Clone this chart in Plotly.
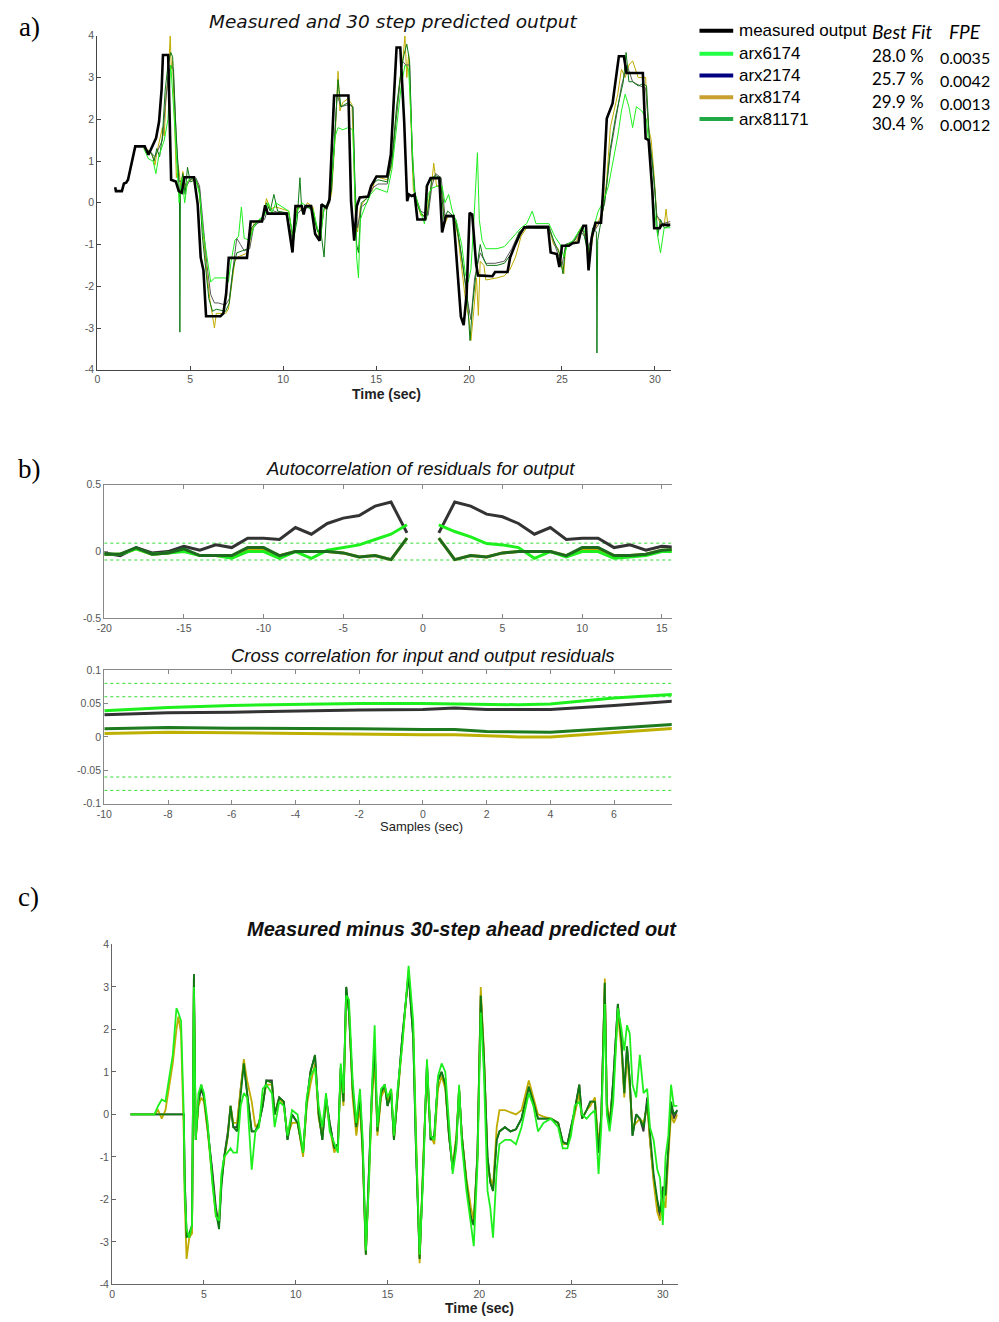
import plotly.graph_objects as go

W, H = 999, 1322
OFF = 8  # page body margin
def fx(p): return (p - OFF) / W
def fy(p): return 1 - (p - OFF) / H

# ---------------- Panel a: measured and 30-step predicted output ----------------
measured = [(0.96,0.37),(1.0,0.28),(1.32,0.28),(1.43,0.46),(1.55,0.48),(1.65,0.55),(2.04,1.35),(2.55,1.35),
    (2.75,1.15),(2.9,1.3),(3.16,1.55),(3.32,1.94),(3.46,2.73),(3.53,3.54),(3.81,3.54),(3.97,0.55),(4.22,0.51),
    (4.38,0.28),(4.54,0.24),(4.69,0.61),(5.2,0.61),(5.4,-0.04),(5.56,-1.31),(5.71,-1.62),(5.85,-2.72),(6.62,-2.72),
    (6.78,-2.65),(6.93,-2.18),(7.07,-1.32),(8.05,-1.32),(8.25,-0.45),(8.86,-0.45),(9.03,-0.06),(9.17,-0.26),
    (10.19,-0.26),(10.5,-1.19),(10.66,-0.08),(11.0,-0.08),(11.1,-0.28),(11.2,-0.08),(11.5,-0.08),(11.72,-0.75),
    (11.96,-0.91),(12.06,-0.04),(12.33,-0.12),(12.49,0.08),(12.64,1.47),(12.74,2.57),(13.51,2.57),(13.65,0.04),
    (13.82,-0.91),(13.96,-0.08),(14.12,0.13),(14.57,0.15),(14.73,0.4),(15.02,0.63),(15.59,0.63),(15.79,1.15),
    (16.1,3.72),(16.3,3.72),(16.51,1.94),(16.67,0.04),(16.77,0.2),(16.92,0.16),(17.07,0.2),(17.22,-0.4),
    (17.63,-0.4),(17.73,0.4),(17.93,0.59),(18.4,0.59),(18.55,-0.71),(18.75,-0.32),(19.16,-0.32),(19.36,-1.47),
    (19.56,-2.73),(19.71,-2.93),(19.87,-2.18),(20.03,-0.24),(20.17,-0.28),(20.38,-1.47),(20.48,-1.74),
    (21.26,-1.76),(21.4,-1.66),(22.07,-1.66),(22.21,-1.31),(22.42,-1.07),(22.72,-0.77),(22.97,-0.59),
    (24.25,-0.59),(24.39,-1.19),(24.72,-1.23),(24.86,-1.54),(25.0,-1.03),(25.37,-1.03),(25.57,-0.97),
    (25.88,-0.95),(25.98,-0.75),(26.15,-0.55),(26.29,-0.55),(26.43,-1.62),(26.6,-0.83),(26.8,-0.48),
    (27.1,-0.48),(27.21,0.28),(27.41,2.02),(27.72,2.38),(27.92,3.01),(28.06,3.51),(28.33,3.51),(28.47,3.11),
    (29.35,3.11),(29.5,1.54),(29.66,1.5),(29.86,0.28),(29.96,-0.61),(30.26,-0.61),(30.36,-0.53),(30.83,-0.53)]

pred_arx8174 = [(2.5,1.3),(2.8,1.25),(3.0,1.1),(3.1,0.9),(3.2,1.2),(3.35,1.5),(3.5,1.8),(3.6,1.6),(3.7,2.6),
    (3.8,2.9),(3.92,4.0),(3.98,3.2),(4.05,3.4),(4.15,2.0),(4.25,0.6),(4.35,0.9),(4.5,0.4),(4.6,0.75),(4.75,0.3),
    (4.85,0.5),(5.0,0.55),(5.3,0.55),(5.45,0.4),(5.6,-0.3),(5.75,-1.1),(5.9,-1.7),(6.05,-2.3),(6.2,-2.75),
    (6.3,-3.0),(6.4,-2.65),(6.9,-2.65),(7.05,-2.55),(7.2,-2.0),(7.4,-1.4),(7.55,-1.3),(7.8,-1.25),(8.1,-1.2),
    (8.3,-0.7),(8.45,-0.45),(8.9,-0.4),(9.1,0.1),(9.3,-0.15),(9.6,-0.1),(10.3,-0.2),(10.55,-0.95),(10.65,-0.3),
    (10.8,-0.1),(11.1,-0.2),(11.3,0.0),(11.6,-0.1),(11.8,-0.6),(12.0,-0.9),(12.15,-0.2),(12.4,-0.1),(12.6,0.2),
    (12.8,1.6),(12.95,3.15),(13.05,2.2),(13.2,2.4),(13.5,2.5),(13.7,2.35),(13.8,1.0),(13.9,-0.5),(14.0,-0.7),
    (14.15,-0.1),(14.3,0.0),(14.6,0.2),(14.8,0.3),(15.0,0.65),(15.2,0.6),(15.6,0.55),(15.85,0.9),(16.05,2.0),
    (16.3,3.0),(16.45,3.5),(16.55,4.0),(16.65,3.0),(16.75,3.55),(16.9,1.5),(17.0,0.3),(17.15,0.1),(17.4,-0.3),
    (17.7,-0.3),(17.85,0.1),(18.0,0.5),(18.1,0.95),(18.25,0.4),(18.5,0.4),(18.7,-0.5),(18.9,-0.3),(19.2,-0.35),
    (19.4,-0.8),(19.6,-1.5),(19.8,-2.3),(20.0,-2.8),(20.1,-3.3),(20.25,-2.6),(20.4,-1.8),(20.5,-2.7),(20.6,-1.4),
    (20.8,-1.5),(20.9,-1.85),(21.5,-1.8),(21.9,-1.75),(22.2,-1.6),(22.5,-1.3),(22.8,-0.8),(23.1,-0.6),(23.6,-0.6),
    (24.3,-0.6),(24.55,-1.0),(24.8,-1.1),(24.95,-1.4),(25.1,-1.7),(25.2,-1.0),(25.5,-1.0),(25.8,-0.9),(26.0,-0.6),
    (26.3,-0.8),(26.5,-1.3),(26.7,-0.7),(26.9,-0.5),(27.2,-0.2),(27.4,0.5),(27.6,1.8),(27.8,2.2),(28.0,2.6),
    (28.2,3.2),(28.4,3.0),(28.6,3.3),(28.8,3.4),(29.1,3.0),(29.35,3.0),(29.5,3.0),(29.65,1.8),(29.8,1.5),
    (29.95,0.7),(30.1,-0.3),(30.3,-0.5),(30.5,-0.55),(30.6,-0.15),(30.7,-0.55),(30.83,-0.5)]

pred_arx2174 = [(2.5,1.3),(2.9,1.2),(3.1,1.1),(3.3,1.3),(3.5,1.5),(3.65,2.3),(3.8,3.0),(3.95,3.3),(4.1,3.2),
    (4.25,1.5),(4.4,0.5),(4.6,0.55),(4.8,0.4),(5.0,0.55),(5.3,0.6),(5.5,0.4),(5.7,-0.5),(5.9,-1.5),(6.1,-2.2),
    (6.3,-2.4),(6.5,-2.4),(6.9,-2.45),(7.1,-2.3),(7.3,-1.5),(7.5,-0.85),(7.7,-1.0),(7.9,-1.15),(8.2,-1.1),
    (8.4,-0.6),(8.6,-0.5),(9.0,-0.4),(9.2,-0.1),(9.5,-0.2),(10.2,-0.3),(10.5,-0.9),(10.7,-0.3),(11.0,-0.15),
    (11.5,-0.1),(11.8,-0.6),(12.0,-0.8),(12.2,-0.15),(12.5,0.0),(12.7,1.0),(12.9,2.6),(13.1,2.3),(13.5,2.35),
    (13.75,2.3),(13.85,0.5),(14.0,-0.6),(14.2,-0.1),(14.5,0.0),(14.8,0.35),(15.1,0.45),(15.6,0.45),(15.9,1.2),
    (16.2,2.5),(16.4,3.4),(16.6,3.3),(16.8,3.3),(16.95,1.2),(17.1,0.2),(17.4,-0.2),(17.8,-0.3),(18.0,0.4),
    (18.2,0.7),(18.5,0.6),(18.7,-0.3),(19.0,-0.3),(19.3,-0.4),(19.6,-1.3),(19.9,-2.3),(20.1,-2.8),(20.3,-1.8),
    (20.6,-1.2),(20.9,-1.45),(21.4,-1.45),(21.9,-1.4),(22.3,-1.1),(22.7,-0.7),(23.2,-0.55),(24.3,-0.55),
    (24.6,-1.0),(25.0,-1.5),(25.2,-1.0),(25.7,-0.9),(26.1,-0.6),(26.4,-1.1),(26.7,-0.7),(27.0,-0.5),(27.3,0.0),
    (27.6,1.2),(27.9,2.0),(28.2,2.8),(28.5,3.3),(28.8,2.9),(29.2,2.8),(29.5,2.75),(29.7,1.6),(29.9,0.8),
    (30.1,-0.3),(30.4,-0.5),(30.83,-0.45)]

pred_arx81171 = [(2.5,1.3),(2.9,1.2),(3.05,1.0),(3.2,1.3),(3.35,1.1),(3.5,1.6),(3.65,2.7),(3.8,3.3),(3.95,3.6),
    (4.05,3.5),(4.2,2.0),(4.35,0.6),(4.42,0.2),(4.44,-3.1),(4.47,0.3),(4.6,0.7),(4.72,0.2),(4.85,0.85),(5.0,0.5),
    (5.3,0.55),(5.5,0.3),(5.65,-0.8),(5.85,-1.6),(6.0,-2.3),(6.2,-2.6),(6.4,-2.55),(6.9,-2.6),(7.1,-2.4),
    (7.3,-1.6),(7.5,-1.2),(7.8,-1.15),(8.1,-1.1),(8.3,-0.6),(8.6,-0.45),(8.9,-0.35),(9.1,0.0),(9.3,-0.2),
    (9.5,0.2),(9.7,-0.2),(10.3,-0.25),(10.55,-0.9),(10.75,-0.4),(10.9,0.6),(11.0,-0.2),(11.3,-0.1),(11.6,-0.2),
    (11.85,-0.7),(12.0,-0.6),(12.2,-1.3),(12.35,-0.1),(12.6,0.3),(12.8,1.8),(12.95,2.95),(13.1,2.3),(13.5,2.4),
    (13.75,2.3),(13.85,0.8),(13.95,-1.0),(14.05,-1.2),(14.2,0.0),(14.5,0.1),(14.8,0.45),(15.1,0.55),(15.6,0.5),
    (15.85,1.0),(16.1,2.3),(16.35,3.2),(16.5,3.55),(16.65,3.8),(16.8,3.4),(16.95,1.0),(17.1,0.1),(17.35,-0.2),
    (17.7,-0.4),(17.85,0.0),(18.0,0.6),(18.2,0.65),(18.45,0.6),(18.65,-0.4),(18.85,-0.2),(19.1,-0.3),(19.3,-0.5),
    (19.5,-1.0),(19.7,-1.6),(19.9,-2.2),(20.05,-3.3),(20.2,-2.4),(20.4,-1.6),(20.6,-1.0),(20.75,-1.3),
    (20.95,-1.5),(21.5,-1.5),(21.9,-1.45),(22.3,-1.2),(22.7,-0.7),(23.1,-0.55),(23.5,-0.6),(24.3,-0.6),
    (24.55,-0.9),(24.85,-1.2),(25.05,-1.7),(25.2,-1.0),(25.6,-0.95),(25.95,-0.65),(26.2,-0.8),(26.45,-1.3),
    (26.65,-0.6),(26.85,-0.7),(26.88,-3.6),(26.92,-0.9),(27.1,-0.4),(27.35,0.2),(27.6,1.3),(27.9,2.1),(28.1,2.5),
    (28.3,2.9),(28.45,3.6),(28.6,2.9),(28.8,2.9),(29.1,2.8),(29.35,2.85),(29.55,2.8),(29.7,1.5),(29.85,1.0),
    (30.0,0.3),(30.15,-0.8),(30.3,-0.4),(30.5,-0.6),(30.83,-0.55)]

pred_arx6174 = [(2.5,1.3),(2.75,1.05),(3.0,1.0),(3.15,0.7),(3.3,1.1),(3.45,1.3),(3.6,1.5),(3.8,2.0),(3.95,3.3),
    (4.1,2.3),(4.25,1.0),(4.4,0.0),(4.55,0.6),(4.7,0.0),(4.85,0.5),(5.0,0.6),(5.3,0.55),(5.5,0.2),(5.7,-0.7),
    (5.9,-1.3),(6.1,-1.9),(6.3,-1.8),(6.9,-1.8),(7.05,-1.9),(7.2,-1.4),(7.4,-0.9),(7.6,-0.8),(7.75,-0.1),
    (7.9,-0.85),(8.2,-0.9),(8.4,-0.6),(8.7,-0.4),(9.0,-0.3),(9.2,0.0),(9.4,-0.25),(9.6,0.0),(10.3,-0.2),
    (10.55,-0.9),(10.75,-0.2),(11.0,0.0),(11.3,-0.1),(11.6,-0.15),(11.8,-0.5),(12.0,-0.9),(12.2,-0.1),
    (12.45,0.0),(12.6,0.5),(12.8,1.6),(12.95,1.8),(13.2,1.75),(13.5,1.8),(13.75,1.75),(13.85,0.3),(13.95,-1.3),
    (14.05,-1.8),(14.15,-0.4),(14.4,-0.1),(14.7,0.2),(15.0,0.35),(15.6,0.25),(15.85,0.8),(16.1,1.8),(16.35,2.8),
    (16.55,3.3),(16.75,3.2),(16.9,1.8),(17.05,0.3),(17.3,-0.1),(17.6,-0.5),(17.8,0.2),(18.0,0.35),(18.3,0.4),
    (18.55,0.4),(18.7,0.0),(18.9,0.2),(19.1,-0.2),(19.35,-0.5),(19.6,-1.0),(19.8,-1.7),(19.95,-1.9),(20.1,-1.6),
    (20.25,-0.5),(20.35,0.4),(20.45,1.2),(20.55,-0.4),(20.7,-0.9),(20.9,-1.1),(21.5,-1.1),(21.9,-1.05),
    (22.2,-0.9),(22.5,-0.75),(22.8,-0.6),(23.1,-0.5),(23.4,-0.2),(23.6,-0.5),(24.3,-0.5),(24.6,-0.8),(24.9,-1.0),
    (25.1,-1.3),(25.3,-1.0),(25.6,-0.9),(25.9,-0.7),(26.1,-0.55),(26.3,-0.8),(26.5,-1.2),(26.7,-0.6),
    (26.95,-0.2),(27.2,0.0),(27.5,0.4),(27.75,1.0),(28.0,1.6),(28.2,2.2),(28.4,2.6),(28.6,2.3),(28.8,1.8),
    (29.0,2.3),(29.3,2.2),(29.55,2.0),(29.75,1.0),(29.95,-0.1),(30.15,-0.8),(30.3,-1.2),(30.5,-0.6),(30.83,-0.6)]

# ---------------- Panel b: residual autocorrelation ----------------
lags_left = [-20,-19,-18,-17,-16,-15,-14,-13,-12,-11,-10,-9,-8,-7,-6,-5,-4,-3,-2,-1]
lags_right = [1,2,3,4,5,6,7,8,9,10,11,12,13,14,15,16]
ac_black_left = [-0.01,-0.03,0.03,-0.01,0.0,0.04,0.01,0.05,0.03,0.1,0.1,0.09,0.18,0.13,0.21,0.25,0.27,0.34,0.37,0.14]
ac_black_right = [0.14,0.37,0.34,0.28,0.26,0.21,0.13,0.18,0.09,0.1,0.1,0.03,0.05,0.01,0.04,0.03]
ac_green_left = [-0.02,-0.02,0.02,-0.02,-0.01,0.0,-0.03,-0.03,-0.05,0.0,0.0,-0.05,0.0,-0.05,0.01,0.03,0.05,0.09,0.13,0.2]
ac_green_right = [0.2,0.15,0.11,0.06,0.05,0.03,-0.05,0.0,-0.04,0.0,0.0,-0.05,-0.04,-0.03,0.0,0.0]
ac_olive_left = [-0.02,-0.02,0.02,-0.02,-0.01,0.01,-0.03,-0.03,-0.04,0.02,0.02,-0.03,0.0,0.0,0.0,-0.01,-0.04,-0.03,-0.06,0.1]
ac_olive_right = [0.1,-0.06,-0.03,-0.04,-0.01,0.0,0.0,0.0,-0.03,0.02,0.02,-0.03,-0.03,-0.02,0.01,0.01]
ac_dkgreen_left = [-0.02,-0.02,0.03,-0.02,-0.01,0.02,-0.03,-0.03,-0.03,0.03,0.03,-0.03,0.0,0.0,0.0,-0.01,-0.04,-0.03,-0.06,0.1]
ac_dkgreen_right = [0.1,-0.06,-0.03,-0.04,-0.01,0.0,0.0,0.0,-0.03,0.03,0.03,-0.03,-0.03,-0.02,0.01,0.02]
ac_conf = 0.063

# ---------------- Panel b: cross correlation ----------------
cc_lags = [-10,-8,-6,-4,-2,0,1,2,3,4,6,8]
cc_green = [0.039,0.044,0.047,0.049,0.05,0.05,0.049,0.048,0.048,0.049,0.058,0.064]
cc_black = [0.033,0.036,0.037,0.039,0.04,0.041,0.043,0.041,0.041,0.041,0.047,0.054]
cc_dkgreen = [0.012,0.014,0.013,0.013,0.012,0.011,0.011,0.008,0.007,0.007,0.013,0.019]
cc_olive = [0.005,0.007,0.006,0.005,0.003,0.003,0.003,0.001,0.0,0.0,0.006,0.013]
cc_conf = [0.06, 0.08]

# ---------------- Panel c: measured minus predicted ----------------
res_t = [1.0,2.3,2.5,2.7,2.9,3.1,3.3,3.5,3.6,3.75,3.9,3.95,4.05,4.2,4.35,4.45,4.55,4.7,4.85,5.0,5.2,5.45,5.65,
    5.82,5.95,6.1,6.3,6.45,6.6,6.8,7.0,7.17,7.35,7.6,7.8,8.0,8.2,8.4,8.7,8.85,9.1,9.35,9.55,9.8,10.1,10.4,10.6,
    10.8,11.05,11.25,11.45,11.65,11.85,12.1,12.3,12.45,12.6,12.75,12.9,13.1,13.3,13.5,13.65,13.82,14.0,14.15,
    14.3,14.45,14.65,14.85,15.0,15.2,15.35,15.55,15.8,16.15,16.4,16.55,16.75,16.95,17.15,17.35,17.55,17.75,
    17.95,18.15,18.35,18.55,18.75,18.9,19.05,19.3,19.55,19.7,19.9,20.08,20.25,20.45,20.6,20.75,20.95,21.1,
    21.4,21.7,22.0,22.3,22.55,22.7,22.95,23.2,23.5,23.9,24.3,24.55,24.8,25.0,25.2,25.45,25.6,25.85,26.05,
    26.3,26.5,26.65,26.84,26.95,27.1,27.3,27.55,27.75,27.9,28.05,28.2,28.35,28.55,28.75,28.95,29.15,29.3,
    29.5,29.7,29.85,30.0,30.15,30.3,30.45,30.6,30.8]
res_arx2174 = [0,0,0,0,0,0,0,0,0,0,0,-1.5,-2.8,-2.9,-2.7,3.3,-0.5,0.3,0.6,0.4,-0.3,-1.3,-2.2,-2.6,-1.6,-1.0,
    -0.4,0.2,-0.3,-0.3,0.6,1.2,0.5,-0.4,-0.4,-0.2,0.2,0.8,0.8,0.0,0.4,0.3,-0.6,0.0,-0.2,-0.9,0.3,1.0,1.4,0.0,
    -0.6,0.4,-0.2,-0.8,-0.7,1.1,0.3,3.0,2.4,0.6,-0.4,0.4,-0.8,-3.3,-1.2,0.5,1.6,-0.4,0.5,0.7,0.2,0.5,-0.6,0.5,
    1.8,3.3,1.8,-0.8,-3.4,-1.2,1.2,-0.6,-0.5,0.8,1.0,0.7,-0.5,-1.3,-0.7,0.6,-0.5,-1.6,-2.4,-2.6,-0.9,2.8,1.4,
    -1.0,-1.6,-1.8,-0.6,-0.4,-0.3,-0.4,-0.35,-0.1,0.4,0.65,0.3,-0.1,-0.1,-0.1,-0.2,-0.65,-0.7,-0.3,0.1,0.7,
    -0.1,0.1,0.3,0.3,-0.9,0.0,3.1,0.2,-0.3,0.8,2.6,1.7,0.5,1.6,0.8,-0.5,0.0,-0.1,-0.4,0.4,-0.6,-1.5,-2.1,-2.4,
    -1.7,-1.9,-0.8,0.2,-0.1,0.1]
res_arx8174 = [0,0,0.1,-0.1,0.1,0.6,1.2,2.0,2.3,1.9,-0.5,-2.0,-3.4,-2.9,-2.8,3.1,-0.6,0.2,0.4,0.3,-0.4,-1.5,
    -2.4,-2.5,-1.5,-1.1,-0.5,0.2,-0.2,-0.2,0.7,1.3,0.8,0.3,-0.3,-0.2,0.3,0.7,0.7,0.0,0.4,0.2,-0.5,-0.2,-0.2,
    -1.0,0.2,0.7,1.2,-0.1,-0.5,0.3,-0.3,-0.9,-0.7,1.0,0.2,2.7,2.5,0.4,-0.5,0.2,-1.0,-3.3,-1.4,0.3,1.3,-0.5,
    0.4,0.6,0.3,0.6,-0.6,0.4,1.5,3.4,2.0,-0.6,-3.5,-1.0,1.0,-0.5,-0.7,0.6,0.9,0.6,-0.5,-1.2,-0.5,0.6,-0.5,
    -1.5,-2.2,-2.5,-1.0,3.0,1.5,-1.2,-1.5,-1.7,-0.3,0.1,0.1,0.05,0.0,0.1,0.5,0.8,0.4,0.0,-0.05,-0.1,-0.2,
    -0.7,-0.7,-0.4,0.0,0.5,-0.1,0.1,0.2,0.4,-0.7,-0.1,3.2,0.3,-0.2,0.6,2.4,1.5,0.4,1.4,0.6,-0.3,-0.2,-0.1,
    -0.2,0.2,-0.6,-1.6,-2.3,-2.5,-2.0,-2.2,-1.0,0.0,-0.2,0.0]
res_arx81171 = [0,0,0,0,0,0,0,0,0,0,0,-1.5,-2.9,-2.8,-2.6,3.3,-0.6,0.3,0.7,0.4,-0.3,-1.4,-2.3,-2.7,-1.7,-1.0,
    -0.5,0.2,-0.3,-0.4,0.5,1.2,0.5,-0.4,-0.4,-0.2,0.2,0.8,0.75,0.0,0.4,0.3,-0.6,0.0,-0.2,-0.9,0.3,1.0,1.4,0.0,
    -0.6,0.4,-0.2,-0.8,-0.7,1.1,0.3,3.0,2.4,0.6,-0.3,0.4,-0.9,-3.3,-1.2,0.5,1.6,-0.4,0.5,0.7,0.2,0.5,-0.6,0.5,
    1.8,3.3,1.8,-0.8,-3.4,-1.2,1.2,-0.6,-0.5,0.8,1.0,0.7,-0.5,-1.3,-0.6,0.6,-0.5,-1.6,-2.5,-2.6,-1.0,2.8,1.4,
    -1.0,-1.6,-1.8,-0.6,-0.4,-0.3,-0.4,-0.35,-0.1,0.4,0.65,0.3,-0.1,-0.1,-0.1,-0.2,-0.65,-0.7,-0.3,0.1,0.7,
    -0.1,0.1,0.3,0.3,-0.9,0.0,3.1,0.2,-0.3,0.8,2.6,1.7,0.5,1.6,0.8,-0.5,0.0,-0.1,-0.3,0.3,-0.5,-1.4,-2.0,-2.3,
    -1.8,-1.9,-0.8,0.3,0.0,0.1]
res_arx6174 = [0,0,0.2,0.35,0.3,0.9,1.4,2.5,2.4,2.2,0.0,-1.8,-2.7,-2.9,-2.6,3.0,-0.6,0.5,0.7,0.5,-0.2,-1.6,-2.4,
    -2.5,-1.4,-1.0,-0.9,-0.8,-0.9,-0.9,0.2,0.5,0.4,-1.3,-0.4,-0.3,0.6,0.7,0.5,-0.3,0.3,0.2,-0.5,0.1,0.0,-0.9,
    0.4,0.9,1.1,0.2,-0.3,0.5,-0.4,-0.7,-0.9,1.2,0.5,2.8,2.7,0.8,-0.2,0.6,-0.6,-3.2,-1.5,0.6,2.1,-0.3,0.6,0.7,
    0.4,0.6,-0.5,0.6,1.6,3.5,2.2,-0.6,-3.3,-1.4,1.3,-0.5,-0.6,0.9,1.2,1.0,-0.2,-1.4,-0.8,0.7,-0.7,-1.8,-2.6,
    -3.1,-1.2,2.4,1.0,-1.8,-2.2,-2.9,-1.3,-0.7,-0.6,-0.6,-0.7,-0.3,0.2,0.5,0.2,-0.4,-0.2,-0.1,-0.3,-0.8,-0.8,
    -0.5,0.2,0.3,0.0,-0.1,0.0,0.1,-1.4,-0.3,2.6,0.0,-0.4,0.3,2.5,2.0,1.5,2.1,1.9,0.7,0.4,1.4,0.5,0.6,-0.3,
    -0.6,-1.3,-1.5,-2.6,-1.0,-0.5,0.7,0.2,0.2]

# ---------------- Legend table ----------------
legend_names = ["measured output", "arx6174", "arx2174", "arx8174", "arx81171"]
legend_colors = ["#000000", "#22FF44", "#000080", "#C8A030", "#22A845"]
best_fit = ["28.0 %", "25.7 %", "29.9 %", "30.4 %"]
fpe = ["0.0035", "0.0042", "0.0013", "0.0012"]

C_BLACK = "#000000"
C_OLIVE = "#C0AC00"
C_DKGREEN = "#0E7A12"
C_GREEN = "#1EF01E"

def split(pairs):
    return [p[0] for p in pairs], [p[1] for p in pairs]

fig = go.Figure()

# Panel a traces
for pairs, col, w in [(pred_arx8174, C_OLIVE, 1), (pred_arx2174, "#5a5a5a", 1),
                      (pred_arx81171, C_DKGREEN, 1), (pred_arx6174, C_GREEN, 1),
                      (measured, C_BLACK, 2.6)]:
    x, y = split(pairs)
    fig.add_trace(go.Scatter(x=x, y=y, mode="lines", line=dict(color=col, width=w),
                             xaxis="x", yaxis="y", showlegend=False))

# Autocorrelation
ac_x = [-20, 15.62]
for v in [ac_conf, -ac_conf]:
    fig.add_trace(go.Scatter(x=ac_x, y=[v, v], mode="lines", line=dict(color="#33DD33", width=1, dash="dot"),
                             xaxis="x2", yaxis="y2", showlegend=False))
for yl, yr, col in [(ac_olive_left, ac_olive_right, C_OLIVE), (ac_black_left, ac_black_right, "#333333"),
                    (ac_green_left, ac_green_right, C_GREEN), (ac_dkgreen_left, ac_dkgreen_right, "#1E6A1E")]:
    for xs, ys in [(lags_left, yl), (lags_right, yr)]:
        fig.add_trace(go.Scatter(x=xs, y=ys, mode="lines", line=dict(color=col, width=3),
                                 xaxis="x2", yaxis="y2", showlegend=False))

# Cross correlation
cc_x = [-10, 7.81]
for v in cc_conf:
    for s in [1, -1]:
        fig.add_trace(go.Scatter(x=cc_x, y=[s * v, s * v], mode="lines",
                                 line=dict(color="#33DD33", width=1, dash="dot"),
                                 xaxis="x3", yaxis="y3", showlegend=False))
for ys, col in [(cc_olive, "#BDB000"), (cc_dkgreen, "#1E7A1E"), (cc_black, "#333333"), (cc_green, C_GREEN)]:
    fig.add_trace(go.Scatter(x=cc_lags, y=ys, mode="lines", line=dict(color=col, width=3),
                             xaxis="x3", yaxis="y3", showlegend=False))

# Panel c
for ys, col in [(res_arx2174, "#3a3a3a"), (res_arx8174, C_OLIVE), (res_arx81171, C_DKGREEN), (res_arx6174, C_GREEN)]:
    fig.add_trace(go.Scatter(x=res_t, y=ys, mode="lines", line=dict(color=col, width=1.8),
                             xaxis="x4", yaxis="y4", showlegend=False))

tickfont = dict(family="Liberation Sans, Arial", size=10.5, color="#555555")

def ax(domain, rng, tv, tt, anchor, mirror=False, linecolor="#444444"):
    return dict(domain=domain, range=rng, tickvals=tv, ticktext=tt, anchor=anchor, showgrid=False,
                zeroline=False, showline=True, linecolor=linecolor, linewidth=1.3, ticks="inside",
                ticklen=4, tickcolor=linecolor, tickfont=tickfont, mirror=mirror, fixedrange=True)

def lbl(vals):
    return ["%g" % v for v in vals]

ta = [0, 5, 10, 15, 20, 25, 30]
ya = [-4, -3, -2, -1, 0, 1, 2, 3, 4]
fig.update_layout(
    width=W, height=H, margin=dict(l=0, r=0, t=0, b=0),
    paper_bgcolor="white", plot_bgcolor="white", showlegend=False,
    xaxis=ax([fx(90), fx(668)], [0, 30.85], ta, lbl(ta), "y"),
    yaxis=ax([fy(367), fy(30)], [-4, 4], ya, lbl(ya), "x"),
    xaxis2=ax([fx(97), fx(669)], [-20, 15.62], [-20, -15, -10, -5, 0, 5, 10, 15],
              lbl([-20, -15, -10, -5, 0, 5, 10, 15]), "y2", mirror="ticks", linecolor="#888888"),
    yaxis2=ax([fy(618), fy(483)], [-0.5, 0.5], [-0.5, 0, 0.5], ["-0.5", "0", "0.5"], "x2", linecolor="#888888"),
    xaxis3=ax([fx(97), fx(669)], [-10, 7.81], [-10, -8, -6, -4, -2, 0, 2, 4, 6],
              lbl([-10, -8, -6, -4, -2, 0, 2, 4, 6]), "y3", mirror="ticks", linecolor="#888888"),
    yaxis3=ax([fy(805), fy(670)], [-0.1, 0.1], [-0.1, -0.05, 0, 0.05, 0.1],
              ["-0.1", "-0.05", "0", "0.05", "0.1"], "x3", linecolor="#888888"),
    xaxis4=ax([fx(105), fx(675)], [0, 30.81], ta, lbl(ta), "y4", linecolor="#666666"),
    yaxis4=ax([fy(1290), fy(947)], [-4, 4], ya, lbl(ya), "x4", linecolor="#666666"),
)

ann = []
def text(px, py, s, size, family, color="#111111", xanchor="center", italic=False, bold=False):
    t = s
    if bold:
        t = "<b>" + t + "</b>"
    if italic:
        t = "<i>" + t + "</i>"
    ann.append(dict(x=fx(px), y=fy(py), xref="paper", yref="paper", text=t, showarrow=False,
                    xanchor=xanchor, yanchor="middle", font=dict(size=size, family=family, color=color)))

serif = "Liberation Serif, Times New Roman"
sans = "Liberation Sans, Arial"
text(22, 21, "a)", 27, serif, "#000000")
text(22, 467, "b)", 27, serif, "#000000")
text(21, 899, "c)", 27, serif, "#000000")

text(388, 16, "Measured and 30 step predicted output", 18.5, "DejaVu Sans, Verdana", "#111111", italic=True)
text(416, 467, "Autocorrelation of residuals for output", 18.5, sans, "#111111", italic=True)
text(418, 655, "Cross correlation for input and output residuals", 18.5, sans, "#111111", italic=True)
text(676, 931, "Measured minus 30-step ahead predicted out", 20, sans, "#111111", xanchor="right", italic=True, bold=True)

text(381, 391, "Time (sec)", 14, sans, "#222222", bold=True)
text(417, 828, "Samples (sec)", 13, sans, "#222222")
text(475, 1314, "Time (sec)", 14, sans, "#222222", bold=True)

# legend table
leg_y = [25, 48, 70, 92, 114]
fit_y = [50, 73, 96, 118]
fpe_y = [52, 75, 98, 120]
shapes = []
for i, (name, col) in enumerate(zip(legend_names, legend_colors)):
    shapes.append(dict(type="line", xref="paper", yref="paper", x0=fx(697), x1=fx(731),
                       y0=fy(leg_y[i]), y1=fy(leg_y[i]), line=dict(color=col, width=4)))
    text(735, leg_y[i], name, 17, sans, "#000000", xanchor="left")
num_font = "Lato, Open Sans"
text(869, 26, "Best Fit", 19, num_font, "#000000", xanchor="left", italic=True)
text(947, 26, "FPE", 19, num_font, "#000000", xanchor="left", italic=True)
for i in range(4):
    text(869, fit_y[i], best_fit[i], 17, num_font, "#000000", xanchor="left")
    text(937, fpe_y[i], fpe[i], 16, num_font, "#000000", xanchor="left")

fig.update_layout(annotations=ann, shapes=shapes)
fig.write_html("out.html")
